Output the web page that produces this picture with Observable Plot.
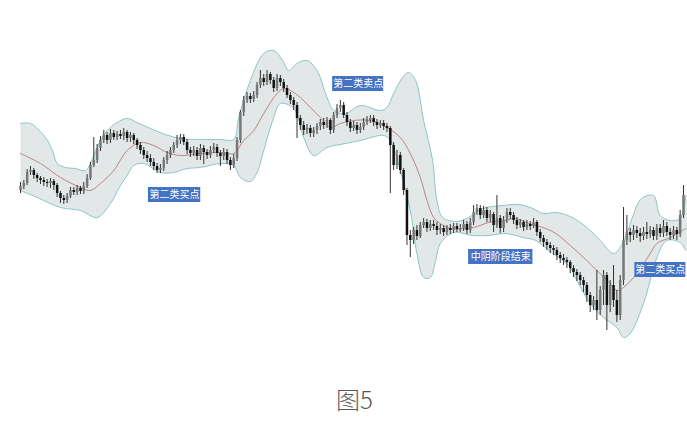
<!DOCTYPE html>
<html><head><meta charset="utf-8">
<script src="https://cdn.jsdelivr.net/npm/d3@7"></script>
<script src="https://cdn.jsdelivr.net/npm/@observablehq/plot@0.6"></script>
<style>
body{margin:0;background:#fff;width:687px;height:429px;position:relative;overflow:hidden}
#chart{position:absolute;left:0;top:0}
#cap{position:absolute;top:381px;left:11px;width:687px;text-align:center;font-family:"Noto Sans CJK SC","Noto Sans",sans-serif;font-size:24px;font-weight:300;color:#5a5a5a;}
</style></head><body>
<div id="chart"></div>
<div id="cap">图5</div>
<script>
// closes per bar (price units)
const closes = [214,217,228,230,225,222,220,218,217,219,215,207,202,200,204,210,208,212,209,214,
222,235,240,252,260,265,260,267,263,266,264,268,262,265,260,255,250,245,242,238,
234,230,232,240,245,250,255,260,263,258,250,247,250,244,252,248,245,250,253,247,
244,248,240,235,242,260,288,300,304,301,305,315,322,318,326,320,312,322,318,312,
305,300,295,282,275,270,272,267,270,274,278,275,280,270,285,292,295,285,278,272,
275,270,273,278,280,282,278,275,277,274,272,255,235,245,230,210,165,160,170,164,
175,178,172,176,174,170,172,168,172,170,174,171,172,176,170,178,188,192,185,190,
182,186,175,182,172,180,188,185,180,175,178,173,176,174,178,168,162,158,155,152,
150,145,142,140,138,132,128,125,120,115,105,95,100,90,110,125,95,115,100,85,
120,160,168,165,170,167,164,168,166,170,164,172,167,174,168,165,170,166,185,205];
const firstOpen = 210;
const highs = [218,220,231,234,232,227,224,223,221,222,221,217,209,205,207,213,213,215,214,218,
226,238,263,256,264,270,268,271,270,269,270,272,270,268,267,262,258,253,249,246,
242,237,236,243,249,253,258,265,266,266,261,253,254,253,256,255,251,254,257,256,
250,252,251,243,246,263,290,304,308,307,309,318,330,326,330,328,323,326,325,321,
315,308,303,298,285,279,276,275,273,277,281,282,283,282,288,296,300,298,288,281,
279,278,277,282,284,285,285,281,280,280,277,274,258,250,248,232,212,170,173,175,
178,182,181,180,180,178,176,175,175,176,177,177,176,180,179,182,195,196,195,194,
193,190,188,205,185,184,192,192,188,183,181,180,180,179,182,180,171,165,161,158,
155,153,148,146,143,140,135,131,128,123,118,108,104,130,114,130,128,120,135,110,
125,193,185,172,175,174,172,173,178,174,173,176,176,180,178,172,174,173,190,215];
const lows = [207,211,215,225,221,218,216,214,213,212,210,203,197,196,197,202,205,205,206,206,
212,220,233,237,249,257,256,257,260,260,261,260,258,258,256,251,246,241,238,234,
230,227,227,229,236,242,247,252,256,255,246,243,244,240,240,236,241,242,247,243,
234,240,236,230,232,239,257,284,297,297,298,302,312,314,315,316,308,309,314,308,
302,296,290,262,270,265,266,263,263,266,270,271,272,266,267,282,288,282,274,268,
269,266,267,270,275,277,274,271,272,270,268,207,230,231,226,205,155,143,156,160,
162,172,168,169,170,165,166,164,165,166,167,168,168,169,166,167,175,185,181,182,
178,178,168,172,167,168,177,181,176,171,172,169,170,170,172,164,158,153,150,147,
145,140,137,135,132,127,123,119,115,108,98,88,90,80,85,95,70,88,93,78,
80,115,155,158,160,162,158,160,161,162,160,160,163,163,164,160,161,160,163,182];

// Bollinger band readings (bar index, price)
const upperT = [0,3,7.5,9.6,11,13.5,16.5,19.5,22,24,26,29,32,35,39,43.5,48,54,60,64,65.5,69,73,76,78.7,80.5,83,86,89,92,94,97.6,102,108,110,112,114.7,116.5,118.6,121,123.7,125,126.7,130.6,134.5,138.7,144.7,149.5,153.8,156.8,160.7,165,170,174,178,180,182.6,185.3,186.8,190,192,195,198,199.7];
const upperV = [277,277,263,250,237,233,232,230,245,260,270,278,282,278,272,266,262,261,261,261,283,320,347,350,340,330,337,340,330,303,290,287,295,290,293,307,323,328,320,280,240,200,183,179,183,192,195,196,192,187,188,184,173,160,147,153,173,197,203,205,185,180,182,205];
const lowerT = [0,5,12,18,23,27,30,32,34,37,42,46,50,54,60,64,66,69,71,73,76,78,82,85,88,92,97.6,102,109,111,114,117,119,121,123,124.6,126,130,135.7,140.5,145.6,150.8,154.7,158.6,162.8,165,167,171,175,179,181,183,187,189,191,194,198,199.7];
const lowerV = [210,203,193,190,183,197,215,225,235,237,228,228,232,233,237,235,223,219,228,250,283,297,292,263,245,253,257,260,265,260,230,190,147,123,123,140,157,168,165,165,167,163,160,150,140,133,120,97,83,73,63,67,97,120,143,160,158,150];
const midT = [0,6,12,18,21,24,28,32,36,40,44,48,54,60,64,67,70,73,77,79,81,84,87,90,93,96,100,105,110,114,117,120,122,124,126,129,136,140.5,145.6,148.6,152.6,156.8,160.7,165,169,173,177,179,181,185,189,191,195,199.7];
const midV = [247,237,223,213,210,217,230,250,258,255,248,245,247,248,247,260,270,287,307,312,310,303,293,283,273,277,280,280,273,263,247,223,200,183,177,172,173,178,180,182,177,173,167,155,143,130,117,110,113,127,147,157,163,172];

// annotation boxes (bar index / price extents)
const labelText = ["第二类买点","第二类卖点","中阴阶段结束","第二类买点"];
const labelX1 = [38.4, 93.7, 134.5, 184.4];
const labelX2 = [54.1, 109, 153.8, 199.7];
const labelY1 = [198, 309, 136, 123];
const labelY2 = [213, 324, 151, 138];

const bars = closes.map((c, i) => ({
  t: i, open: i === 0 ? firstOpen : closes[i-1], close: c, high: highs[i], low: lows[i]
}));
const upper = upperT.map((t, i) => ({t, v: upperV[i]}));
const lower = lowerT.map((t, i) => ({t, v: lowerV[i]}));
const mid = midT.map((t, i) => ({t, v: midV[i]}));
const band = upper.concat(lower.slice().reverse());
const labels = labelText.map((s, i) => ({s, x1: labelX1[i], x2: labelX2[i], y1: labelY1[i], y2: labelY2[i]}));

const chart = Plot.plot({
  width: 687, height: 372,
  marginTop: 0, marginRight: 0, marginBottom: 0, marginLeft: 0,
  x: {domain: [0, 199], range: [20, 683], axis: null},
  y: {domain: [28, 400], range: [372, 0], axis: null},
  style: {background: "transparent"},
  marks: [
    Plot.line(band, {x: "t", y: "v", curve: "catmull-rom", fill: "#e2e7e7", stroke: "none"}),
    Plot.line(upper, {x: "t", y: "v", curve: "catmull-rom", stroke: "#8cc6c6", strokeWidth: 1}),
    Plot.line(lower, {x: "t", y: "v", curve: "catmull-rom", stroke: "#8cc6c6", strokeWidth: 1}),
    Plot.line(mid, {x: "t", y: "v", curve: "catmull-rom", stroke: "#b87a78", strokeWidth: 0.9}),
    Plot.ruleX(bars, {x: "t", y1: "low", y2: "high", stroke: "#333", strokeWidth: 1}),
    Plot.ruleX(bars, {x: "t", y1: "open", y2: d => d.close === d.open ? d.close + 1 : d.close, stroke: d => d.close >= d.open ? "#777" : "#111", strokeWidth: 2.5}),
    Plot.rect(labels, {x1: "x1", x2: "x2", y1: "y1", y2: "y2", fill: "#4472c4"}),
    Plot.text(labels, {x: d => (d.x1 + d.x2) / 2, y: d => (d.y1 + d.y2) / 2, text: "s", fill: "white", fontSize: 10, fontFamily: "Noto Sans CJK SC"})
  ]
});
document.getElementById("chart").appendChild(chart);
</script>
</body></html>
